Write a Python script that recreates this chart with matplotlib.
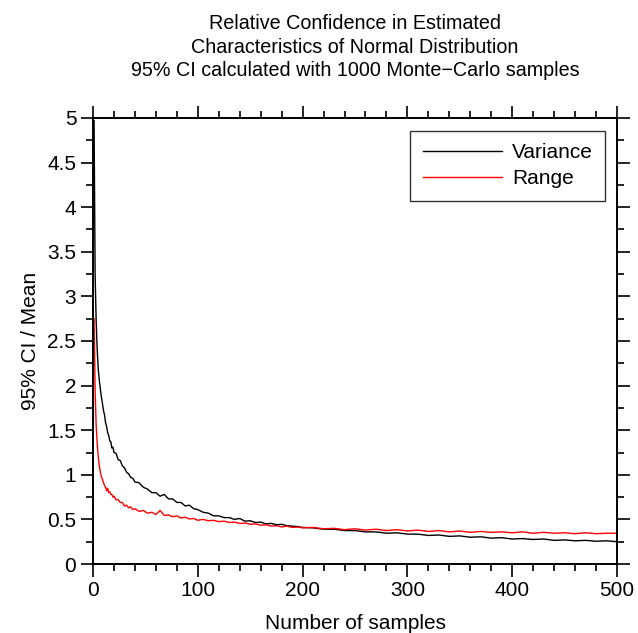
import matplotlib
matplotlib.use("Agg")
import matplotlib.pyplot as plt
from matplotlib.ticker import MultipleLocator

plt.rcParams['font.family'] = ['Liberation Sans', 'DejaVu Sans']

# sample sizes (x) and relative 95% CI width for each estimator
n_samples = [1, 2, 3, 4, 5, 6, 7, 8, 9, 10, 11, 12, 13, 14, 15, 16, 17, 18, 19, 20,
             22, 24, 26, 28, 30, 32, 34, 36, 38, 40,
             44, 48, 52, 56, 60, 64, 68, 72, 76, 80, 84, 88, 92, 96, 100,
             105, 110, 115, 120, 125, 130, 135, 140, 145, 150, 155, 160, 165, 170, 175,
             180, 185, 190, 195, 200,
             210, 220, 230, 240, 250, 260, 270, 280, 290, 300, 310, 320, 330, 340, 350,
             360, 370, 380, 390, 400, 410, 420, 430, 440, 450, 460, 470, 480, 490, 500]

variance_ci = [4.97, 3.25, 2.72, 2.40, 2.18, 2.06, 1.96, 1.87, 1.80, 1.72, 1.67, 1.58, 1.54,
               1.47, 1.44, 1.38, 1.37, 1.30, 1.31, 1.25,
               1.24, 1.17, 1.16, 1.10, 1.08, 1.03, 1.01, 0.97, 0.96, 0.92,
               0.91, 0.86, 0.84, 0.80, 0.80, 0.76, 0.78, 0.73, 0.73, 0.69, 0.69, 0.65,
               0.66, 0.62, 0.61,
               0.58, 0.57, 0.54, 0.54, 0.52, 0.52, 0.50, 0.51, 0.48, 0.485, 0.465, 0.47,
               0.45, 0.455, 0.44, 0.445, 0.43, 0.425, 0.42, 0.41,
               0.405, 0.39, 0.39, 0.375, 0.375, 0.36, 0.36, 0.345, 0.35, 0.335, 0.335,
               0.32, 0.325, 0.31, 0.315, 0.30, 0.305, 0.29, 0.295, 0.28, 0.285, 0.275,
               0.28, 0.265, 0.27, 0.26, 0.265, 0.255, 0.26, 0.25]

range_ci = [2.75, 1.95, 1.55, 1.35, 1.20, 1.10, 1.03, 0.98, 0.95, 0.91, 0.88, 0.86, 0.82,
            0.85, 0.80, 0.81, 0.78, 0.78, 0.75, 0.76,
            0.72, 0.72, 0.69, 0.69, 0.65, 0.66, 0.63, 0.64, 0.61, 0.62,
            0.59, 0.60, 0.57, 0.58, 0.555, 0.60, 0.545, 0.55, 0.53, 0.54, 0.515, 0.525,
            0.505, 0.51, 0.49,
            0.50, 0.485, 0.49, 0.475, 0.48, 0.465, 0.47, 0.455, 0.46, 0.445, 0.45,
            0.435, 0.44, 0.425, 0.43, 0.415, 0.425, 0.41, 0.415, 0.405,
            0.41, 0.395, 0.40, 0.385, 0.395, 0.38, 0.39, 0.375, 0.385, 0.37, 0.38,
            0.365, 0.375, 0.36, 0.37, 0.355, 0.365, 0.355, 0.36, 0.35, 0.36, 0.345,
            0.355, 0.345, 0.35, 0.34, 0.35, 0.34, 0.345, 0.345]

fig = plt.figure(figsize=(6.38, 6.33), dpi=100)
ax = fig.add_axes([0.1458, 0.109, 0.8213, 0.7046])

ax.plot(n_samples, variance_ci, color="black", lw=1.0, label="Variance")
ax.plot(n_samples, range_ci, color="red", lw=1.0, label="Range")

ax.set_xlim(0, 500)
ax.set_ylim(0, 5)
ax.xaxis.set_major_locator(MultipleLocator(100))
ax.xaxis.set_minor_locator(MultipleLocator(20))
ax.yaxis.set_major_locator(MultipleLocator(0.5))
ax.yaxis.set_minor_locator(MultipleLocator(0.25))
ax.yaxis.set_major_formatter(plt.FuncFormatter(lambda v, p: f"{v:g}"))

ax.tick_params(which="both", direction="out", top=True, right=True,
               labelsize=15, width=1.2)
ax.tick_params(which="major", length=9, pad=3)
ax.tick_params(which="minor", length=5)
for s in ax.spines.values():
    s.set_linewidth(1.4)

ax.set_xlabel("Number of samples", fontsize=15, labelpad=10)
ax.set_ylabel("95% CI / Mean", fontsize=15, labelpad=5)
ax.set_title("Relative Confidence in Estimated\n"
             "Characteristics of Normal Distribution\n"
             "95% CI calculated with 1000 Monte\u2212Carlo samples",
             fontsize=14.2, linespacing=1.3, pad=30)

leg = ax.legend(loc="upper right", bbox_to_anchor=(0.978, 0.971), borderaxespad=0,
                fontsize=15, fancybox=False, handlelength=3.8, handletextpad=0.5,
                labelspacing=0.32, borderpad=0.6, frameon=True)
leg.get_frame().set_edgecolor("black")
leg.get_frame().set_linewidth(1.0)

fig.savefig("out.png", dpi=100)
